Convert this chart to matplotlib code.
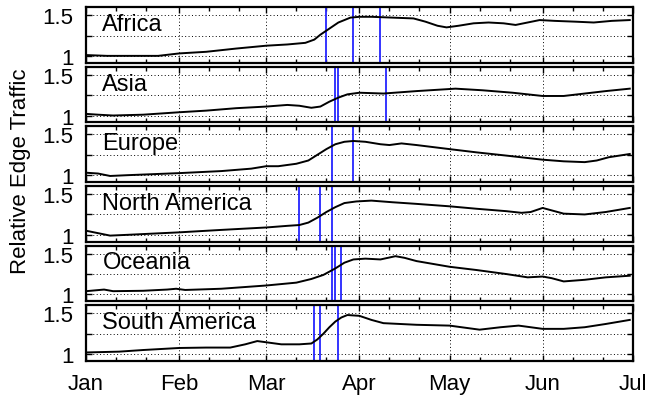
import pandas as pd
import matplotlib
matplotlib.use("Agg")
import matplotlib.pyplot as plt
import matplotlib.dates as mdates

plt.rcParams["font.family"] = ["Liberation Sans", "DejaVu Sans"]

regions = ["Africa", "Asia", "Europe", "North America", "Oceania", "South America"]

# values (relative edge traffic)
africa_dates = ["01-01", "01-08", "01-25", "02-01", "02-10", "02-20", "03-01", "03-08", "03-14",
                "03-17", "03-19", "03-21", "03-23", "03-25", "03-27", "03-29", "04-01", "04-05",
                "04-12", "04-19", "04-23", "04-27", "04-30", "05-04", "05-09", "05-14", "05-19",
                "05-23", "05-27", "05-31", "06-05", "06-12", "06-18", "06-24", "06-30"]
africa_vals = [1.01, 1.00, 1.00, 1.03, 1.05, 1.09, 1.125, 1.14, 1.16,
               1.20, 1.26, 1.31, 1.36, 1.41, 1.44, 1.47, 1.48, 1.48,
               1.47, 1.46, 1.42, 1.37, 1.35, 1.37, 1.40, 1.41, 1.40,
               1.38, 1.41, 1.44, 1.43, 1.42, 1.41, 1.43, 1.44]

asia_dates = ["01-01", "01-05", "01-10", "01-20", "02-01", "02-10", "02-20", "03-01", "03-08",
              "03-12", "03-16", "03-19", "03-22", "03-25", "03-28", "04-01", "04-09", "04-20",
              "05-03", "05-12", "05-22", "06-01", "06-08", "06-15", "06-22", "06-30"]
asia_vals = [1.02, 1.01, 1.00, 1.01, 1.04, 1.06, 1.09, 1.11, 1.13,
             1.12, 1.095, 1.11, 1.17, 1.22, 1.26, 1.28, 1.27, 1.30,
             1.33, 1.31, 1.28, 1.24, 1.24, 1.27, 1.30, 1.33]

europe_dates = ["01-01", "01-05", "01-09", "01-15", "02-01", "02-15", "02-25", "03-01", "03-05",
                "03-11", "03-15", "03-18", "03-21", "03-24", "03-27", "03-30", "04-03", "04-08",
                "04-11", "04-15", "04-20", "05-01", "05-10", "05-20", "06-01", "06-08", "06-15",
                "06-19", "06-23", "06-30"]
europe_vals = [1.03, 1.02, 0.99, 1.00, 1.025, 1.05, 1.08, 1.11, 1.11,
               1.14, 1.18, 1.25, 1.32, 1.38, 1.41, 1.42, 1.41, 1.38,
               1.37, 1.39, 1.37, 1.32, 1.28, 1.24, 1.19, 1.17, 1.16,
               1.18, 1.22, 1.26]

namerica_dates = ["01-01", "01-05", "01-09", "01-15", "02-01", "02-15", "03-01", "03-08", "03-12",
                  "03-15", "03-18", "03-21", "03-24", "03-27", "03-31", "04-05", "04-12", "04-20",
                  "05-01", "05-10", "05-20", "05-25", "05-28", "06-01", "06-04", "06-08", "06-15",
                  "06-22", "06-30"]
namerica_vals = [1.05, 1.02, 0.99, 1.00, 1.03, 1.06, 1.09, 1.11, 1.12,
                 1.15, 1.21, 1.28, 1.34, 1.39, 1.41, 1.42, 1.40, 1.38,
                 1.35, 1.32, 1.29, 1.27, 1.28, 1.33, 1.30, 1.26, 1.25,
                 1.28, 1.33]

oceania_dates = ["01-01", "01-04", "01-07", "01-10", "01-20", "01-28", "01-31", "02-03", "02-15",
                 "03-01", "03-11", "03-16", "03-20", "03-24", "03-27", "03-30", "04-03", "04-08",
                 "04-13", "04-16", "04-20", "05-01", "05-10", "05-20", "05-27", "06-01", "06-04",
                 "06-08", "06-15", "06-22", "06-30"]
oceania_vals = [1.04, 1.05, 1.06, 1.04, 1.045, 1.06, 1.07, 1.055, 1.07,
                1.11, 1.145, 1.19, 1.24, 1.32, 1.39, 1.43, 1.44, 1.43,
                1.47, 1.45, 1.41, 1.34, 1.30, 1.25, 1.21, 1.22, 1.20,
                1.16, 1.18, 1.21, 1.23]

samerica_dates = ["01-01", "01-12", "01-20", "02-01", "02-10", "02-18", "02-23", "02-27", "03-02",
                  "03-06", "03-12", "03-16", "03-18", "03-20", "03-22", "03-24", "03-26", "03-28",
                  "04-01", "04-05", "04-09", "04-20", "05-01", "05-11", "05-18", "05-24", "06-01",
                  "06-08", "06-15", "06-22", "06-30"]
samerica_vals = [1.02, 1.03, 1.05, 1.075, 1.08, 1.08, 1.12, 1.16, 1.14,
                 1.12, 1.12, 1.13, 1.18, 1.25, 1.33, 1.40, 1.45, 1.48,
                 1.47, 1.42, 1.38, 1.36, 1.35, 1.30, 1.33, 1.35, 1.31,
                 1.31, 1.33, 1.37, 1.42]

# blue markers (event dates)
africa_events = ["03-21", "03-30", "04-08"]
asia_events = ["03-24", "03-25", "04-10"]
europe_events = ["03-23", "03-30"]
namerica_events = ["03-12", "03-19", "03-23"]
oceania_events = ["03-23", "03-24", "03-26"]
samerica_events = ["03-17", "03-19", "03-25"]

series = [
    (africa_dates, africa_vals, africa_events),
    (asia_dates, asia_vals, asia_events),
    (europe_dates, europe_vals, europe_events),
    (namerica_dates, namerica_vals, namerica_events),
    (oceania_dates, oceania_vals, oceania_events),
    (samerica_dates, samerica_vals, samerica_events),
]


def to_dt(days):
    return pd.to_datetime(["2020-" + d for d in days])


fig, axes = plt.subplots(6, 1, sharex=True, figsize=(6.47, 4.02), dpi=100)
fig.subplots_adjust(left=0.133, right=0.978, top=0.98, bottom=0.0995, hspace=0.07)

for ax, name, (dates, vals, events) in zip(axes, regions, series):
    for ev in to_dt(events):
        ax.axvline(ev, color="#2424ff", lw=1.3, zorder=2)
    ax.plot(to_dt(dates), vals, color="black", lw=1.4, zorder=3)

    ax.set_ylim(0.915, 1.6)
    ax.set_yticks([1, 1.25, 1.5])
    ax.set_yticklabels(["1", "", "1.5"])
    ax.set_xlim(pd.Timestamp("2020-01-01"), pd.Timestamp("2020-07-01"))
    ax.grid(True, which="major", linestyle=(0, (1, 2.5)), color="black", lw=0.7)

    ax.tick_params(which="both", direction="in", top=True, right=True, labelsize=16)
    ax.tick_params(which="major", length=4, width=1)
    ax.tick_params(which="minor", length=3, width=1)
    ax.tick_params(axis="x", pad=8.5)
    ax.tick_params(axis="y", pad=9)
    for s in ax.spines.values():
        s.set_linewidth(1.6)

    ax.text(0.03, 0.59, name, transform=ax.transAxes, fontsize=17, va="baseline", ha="left")

axes[-1].xaxis.set_major_locator(mdates.MonthLocator())
axes[-1].xaxis.set_minor_locator(mdates.DayLocator(bymonthday=[11, 21]))
axes[-1].xaxis.set_major_formatter(mdates.DateFormatter("%b"))

fig.text(0.032, 0.575, "Relative Edge Traffic", rotation=90, fontsize=16, va="center", ha="center")

plt.savefig("out.png", dpi=100)
